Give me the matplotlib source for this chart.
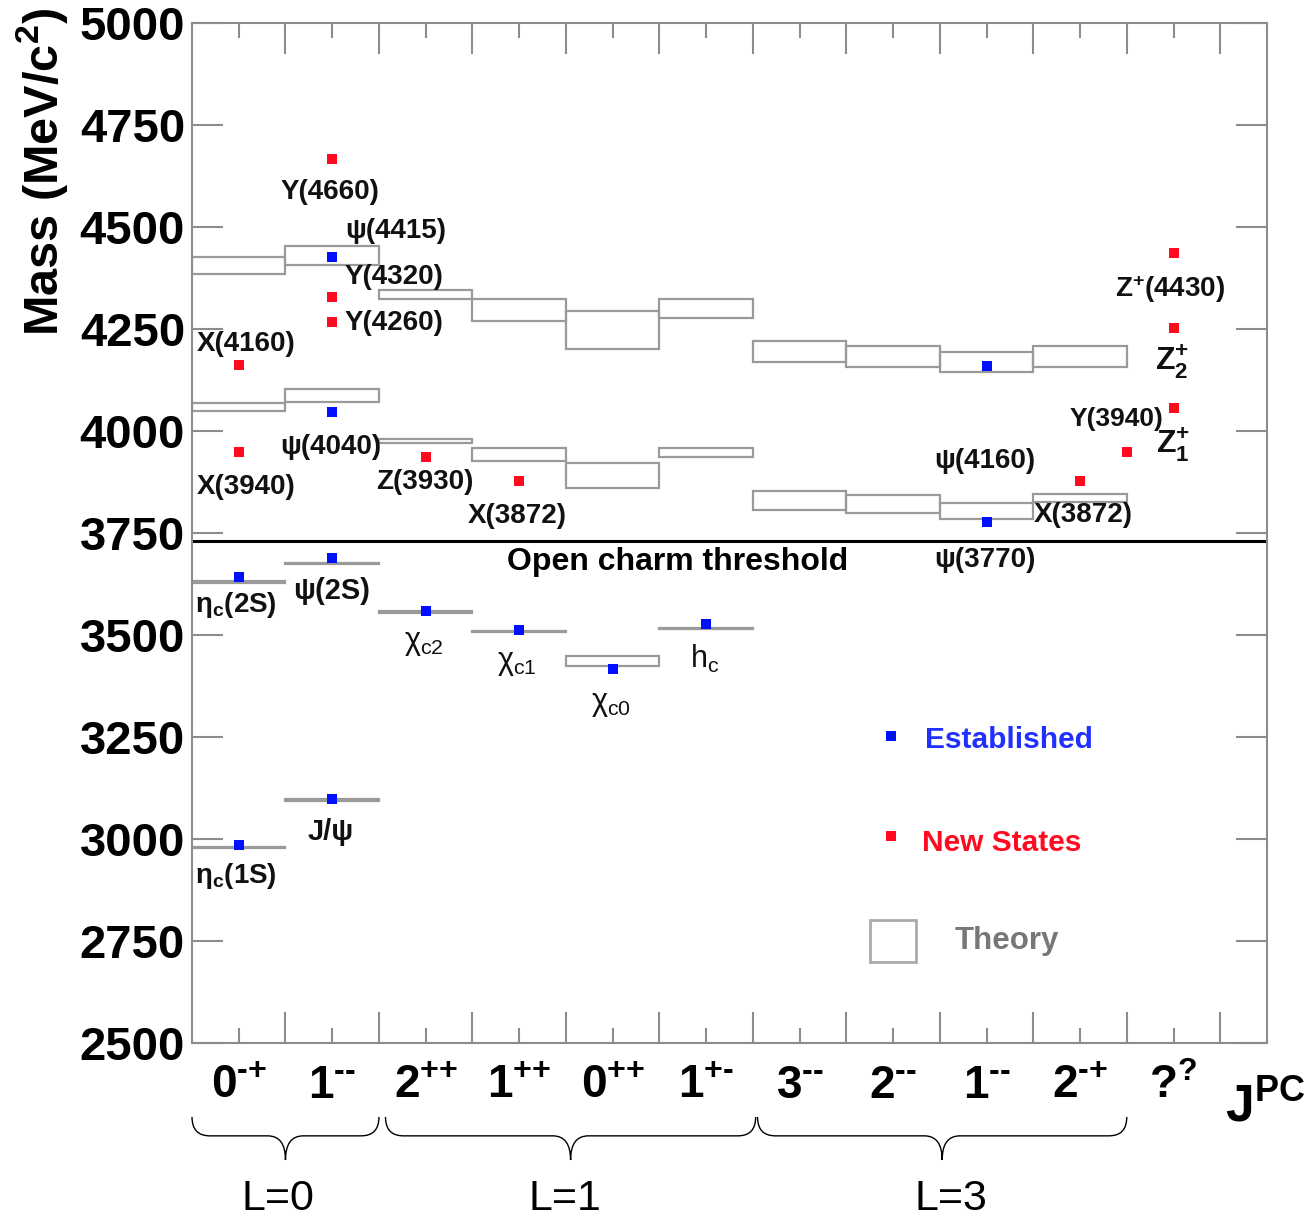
import numpy as np
import matplotlib.pyplot as plt
from matplotlib.patches import Rectangle, PathPatch
from matplotlib.path import Path
from matplotlib.transforms import blended_transform_factory

plt.rcParams['font.family'] = 'Liberation Sans'
plt.rcParams['mathtext.fontset'] = 'custom'
plt.rcParams['mathtext.rm'] = 'Liberation Sans'
plt.rcParams['mathtext.bf'] = 'Liberation Sans:bold'
plt.rcParams['mathtext.it'] = 'Liberation Sans:italic'

# J^PC categories (one column each), short hyphen for the minus sign
jpc = ['0^{‐{+}}', '1^{‐‐}', '2^{{+}{+}}', '1^{{+}{+}}', '0^{{+}{+}}', '1^{{+}‐}',
       '3^{‐‐}', '2^{‐‐}', '1^{‐‐}', '2^{‐{+}}', '?^{?}']
jpc = [r'$\mathbf{' + j + '}$' for j in jpc]

# theory boxes: column, low mass, high mass (MeV)
th_col = [0, 0, 0, 0, 1, 1, 1, 1, 2, 2, 2, 3, 3, 3, 4, 4, 4, 5, 5, 5, 6, 6, 7, 7, 8, 8, 9, 9]
th_lo = [2977, 3626, 4048, 4384, 3093, 3673, 4071, 4406, 3554, 3969, 4322, 3506, 3927, 4270,
         3424, 3860, 4201, 3514, 3936, 4276, 3806, 4169, 3798, 4157, 3784, 4145, 3826, 4157]
th_hi = [2981, 3631, 4067, 4427, 3097, 3677, 4102, 4453, 3559, 3979, 4345, 3510, 3958, 4323,
         3448, 3921, 4294, 3518, 3958, 4322, 3852, 4221, 3843, 4208, 3822, 4193, 3845, 4208]

# established states (blue): column, mass
est_col = [0, 0, 1, 1, 1, 1, 2, 3, 4, 5, 8, 8]
est_m = [2984, 3641, 3097, 3688, 4045, 4425, 3559, 3512, 3416, 3527, 3777, 4159]

# new states (red)
new_col = [0, 0, 1, 1, 1, 2, 3, 9, 9.5, 10, 10, 10]
new_m = [3947, 4162, 4267, 4329, 4667, 3935, 3876, 3876, 3947, 4055, 4253, 4436]

# state labels: text, x (columns), mass, bold, size
lab_txt = ['Y(4660)', 'ψ(4415)', 'Y(4320)', 'Y(4260)', 'X(4160)', 'ψ(4040)', 'X(3940)',
           'Z(3930)', 'X(3872)', 'ψ(4160)', 'Y(3940)', 'X(3872)', 'ψ(3770)',
           r'$\mathbf{Z^{+}(4430)}$', r'$\mathbf{Z_{2}^{+}}$', r'$\mathbf{Z_{1}^{+}}$',
           r'$\mathbf{η_{c}(2S)}$', 'ψ(2S)', r'$\mathrm{χ_{c2}}$', r'$\mathrm{χ_{c1}}$',
           r'$\mathrm{χ_{c0}}$', r'$\mathrm{h_{c}}$', 'J/ψ', r'$\mathbf{η_{c}(1S)}$']
lab_x = [1.48, 2.18, 2.16, 2.16, 0.58, 1.48, 0.58, 2.49, 3.48, 8.48, 9.89, 9.53, 8.48,
         10.46, 10.48, 10.49, 0.47, 1.49, 2.48, 3.48, 4.48, 5.48, 1.48, 0.47]
lab_m = [4585, 4490, 4377, 4264, 4213, 3960, 3862, 3874, 3791, 3927, 4028, 3794, 3683,
         4347, 4168, 3965, 3573, 3607, 3480, 3432, 3330, 3440, 3017, 2909]
lab_bold = [True] * 18 + [False] * 4 + [True] * 2
lab_size = [20] * 10 + [19] + [20] * 2 + [20, 23, 23] + [20, 21, 22, 22, 22, 22, 21, 20]

threshold = 3729

# orbital groups: start column, end column, name, label position
grp_x0 = [0.0, 2.07, 6.05]
grp_x1 = [2.0, 6.03, 10.0]
grp_name = ['L=0', 'L=1', 'L=3']
grp_lab_x = [0.92, 3.99, 8.12]

fig = plt.figure(figsize=(13.1, 12.22), dpi=100)
ax = fig.add_axes([192 / 1310, 1 - 1043 / 1222, 1075 / 1310, 1020.3 / 1222])

grey = '#8c8c8c'
for c, lo, hi in zip(th_col, th_lo, th_hi):
    ax.add_patch(Rectangle((c, lo), 1, hi - lo, fill=False, edgecolor='#9a9a9a', lw=1.6))

ax.plot(np.array(est_col) + 0.5, est_m, 's', color='#0010ff', ms=6.5, mew=0)
ax.plot(np.array(new_col) + 0.5, new_m, 's', color='#ff0a1e', ms=6.5, mew=0)

for t, x, m, b, fs in zip(lab_txt, lab_x, lab_m, lab_bold, lab_size):
    ax.text(x, m, t, ha='center', va='center', fontsize=fs,
            fontweight='bold' if b else 'normal', color='#111111')

ax.axhline(threshold, color='black', lw=2.2)
ax.text(5.19, 3679, 'Open charm threshold', ha='center', va='center',
        fontsize=23, fontweight='bold')

# legend
ax.plot([7.48], [3252], 's', color='#0010ff', ms=6.5, mew=0)
ax.text(7.84, 3243, 'Established', color='#2030ff', fontsize=21.5, fontweight='bold', va='center')
ax.plot([7.48], [3007], 's', color='#ff0a1e', ms=6.5, mew=0)
ax.text(7.81, 2990, 'New States', color='#ff0a1e', fontsize=21.5, fontweight='bold', va='center')
ax.add_patch(Rectangle((7.25, 2699), 0.5, 102, fill=False, edgecolor='#aaaaaa', lw=2))
ax.text(8.16, 2749, 'Theory', color='#777777', fontsize=22.5, fontweight='bold', va='center')

ax.set_xlim(0, 11.5)
ax.set_ylim(2500, 5000)
ax.set_yticks(np.arange(2500, 5001, 250))
ax.set_xticks(np.arange(1, 12))
ax.set_xticklabels([])
ax.set_xticks(np.arange(0.5, 11, 1), jpc, minor=True)
ax.tick_params(which='major', direction='in', length=22, width=1.5, color=grey,
               top=True, right=True)
ax.tick_params(axis='x', which='minor', direction='in', length=11, width=1.5, color=grey,
               top=True, labelsize=33, pad=15)
ax.tick_params(axis='y', labelsize=34, pad=5)
for lab in ax.get_yticklabels():
    lab.set_fontweight('bold')
for s in ax.spines.values():
    s.set_color(grey)
    s.set_linewidth(1.5)

# braces under the J^PC labels
tr = blended_transform_factory(ax.transData, ax.transAxes)
yt, ym, yb = -0.0725, -0.091, -0.1147
r = 0.19
for x0, x1, name, lx in zip(grp_x0, grp_x1, grp_name, grp_lab_x):
    xm = (x0 + x1) / 2
    verts = [(x0, yt), (x0, ym), (x0 + r, ym), (xm - r, ym), (xm, ym), (xm, yb),
             (xm, ym), (xm + r, ym), (x1 - r, ym), (x1, ym), (x1, yt)]
    codes = [Path.MOVETO, Path.CURVE3, Path.CURVE3, Path.LINETO, Path.CURVE3, Path.CURVE3,
             Path.CURVE3, Path.CURVE3, Path.LINETO, Path.CURVE3, Path.CURVE3]
    ax.add_patch(PathPatch(Path(verts, codes), fill=False, lw=1, color='black',
                           transform=tr, clip_on=False))
    ax.text(lx, -0.153, name, transform=tr, ha='center', va='center', fontsize=31)

fig.text(1265 / 1310, 1 - 1108 / 1222, r'$\mathbf{J^{PC}}$', ha='center', va='center',
         fontsize=37)
fig.text(42 / 1310, 1 - 8 / 1222, r'Mass (MeV/c$^{\mathbf{2}}$)', rotation=90,
         ha='center', va='top', fontsize=35, fontweight='bold')

fig.savefig('out.png', dpi=100)
